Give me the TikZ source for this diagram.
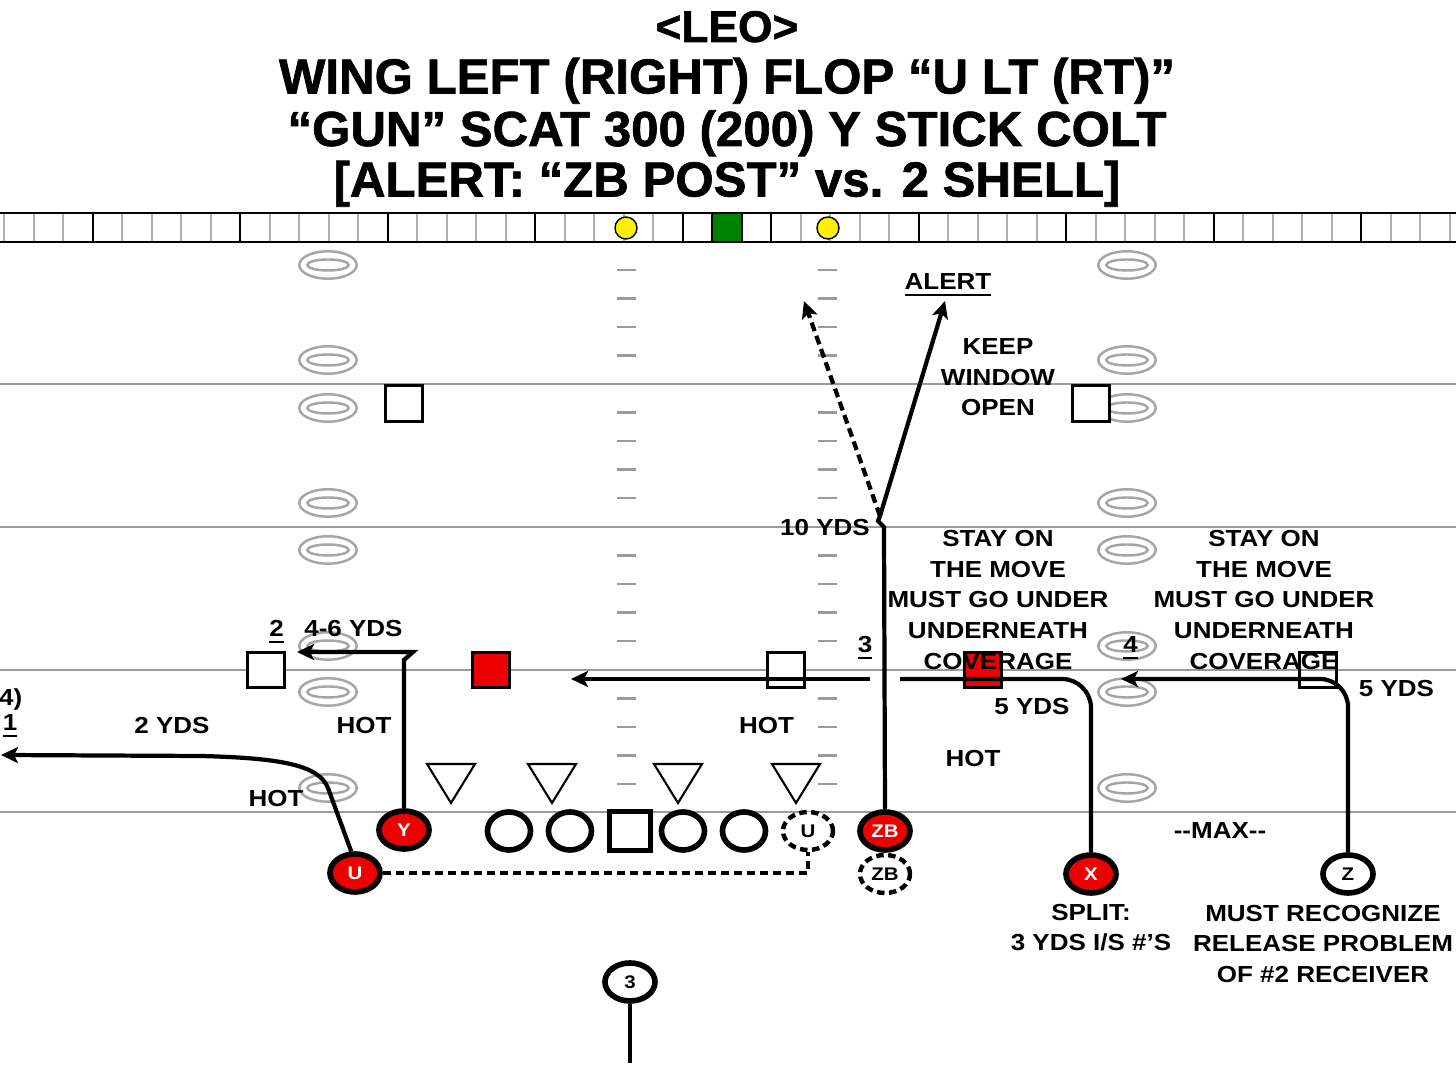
\documentclass[tikz,border=0pt]{standalone}
\usepackage{fontspec}
\setmainfont{Liberation Sans}
\newfontfamily\lblfam{Liberation Sans}[FakeStretch=1.12]
\newfontfamily\ttlfam{Liberation Sans}[BoldFeatures={FakeBold=1.3}]
\usetikzlibrary{arrows.meta,shapes.geometric}
\definecolor{pred}{RGB}{236,0,0}
\definecolor{pgreen}{RGB}{0,128,0}
\definecolor{pyellow}{RGB}{255,240,0}
\definecolor{fgrey}{RGB}{155,155,155}
\definecolor{ogrey}{RGB}{165,165,165}
\definecolor{sgrey}{RGB}{175,175,175}
\tikzset{
  lbl/.style={font=\lblfam\bfseries\fontsize{6.6}{8.7}\selectfont, inner sep=0pt, align=center},
  ttl/.style={font=\ttlfam\bfseries\fontsize{14}{16}\selectfont, inner sep=0pt, anchor=base},
  plr/.style={ellipse, draw=black, line width=1.6pt, minimum width=0.5cm, minimum height=0.38cm,
              inner sep=0pt, font=\lblfam\bfseries\fontsize{5.2}{6}\selectfont},
  plred/.style={plr, fill=pred, text=white},
  pldash/.style={plr, fill=white, line width=1.25pt, dash pattern=on 0.075cm off 0.045cm},
  olmen/.style={ellipse, draw=black, fill=white, line width=1.6pt, minimum width=0.43cm, minimum height=0.38cm, inner sep=0pt},
  cbox/.style={rectangle, draw=black, fill=white, line width=1.6pt, minimum width=0.41cm, minimum height=0.39cm, inner sep=0pt},
  dsq/.style={rectangle, draw=black, fill=white, line width=0.75pt, minimum width=0.375cm, minimum height=0.355cm, inner sep=0pt},
  tri/.style={draw=black, fill=white, line width=0.6pt, line join=miter},
  route/.style={draw=black, line width=1.2pt},
  droute/.style={route, dash pattern=on 0.09cm off 0.05cm},
  dline/.style={draw=black, line width=1pt, dash pattern=on 0.08cm off 0.05cm},
  yardln/.style={draw=fgrey, line width=0.55pt},
  hashmk/.style={draw=fgrey, line width=0.65pt},
  ovalln/.style={draw=ogrey, line width=0.7pt},
  >={Stealth[length=0.17cm,width=0.16cm,inset=0.04cm]}
}
\begin{document}
\begin{tikzpicture}[x=0.01cm,y=-0.01cm]
\useasboundingbox (0,0) rectangle (1456,1092);
\clip (0,0) rectangle (1456,1092);
\fill[white] (0,0) rectangle (1456,1092);

% ---------- title ----------
\node[ttl, font=\ttlfam\bfseries\fontsize{12.6}{14}\selectfont] (t1) at (727,42) {<LEO>};
\node[ttl] (t2) at (727,93.5) {WING LEFT (RIGHT) FLOP “U LT (RT)”};
\node[ttl] (t3) at (727,146) {“GUN” SCAT 300 (200) Y STICK COLT};
\node[ttl] (t4) at (727,196.5) {[ALERT: “ZB POST” vs. 2 SHELL]};

% ---------- sideline strip ----------
\foreach \o in {-24.5,-23.5,...,24.5}
  \draw[draw=sgrey, line width=0.45pt] ({727+\o*29.5},213) -- ({727+\o*29.5},242);
\foreach \o in {-21.5,-16.5,-11.5,-6.5,-1.5,1.5,6.5,11.5,16.5,21.5}
  \draw[black, line width=0.6pt] ({727+\o*29.5},213) -- ({727+\o*29.5},242);
\draw[black, line width=0.7pt] (-2,213) rectangle (1458,242);
\filldraw[fill=pgreen, draw=black, line width=0.5pt] (712.25,213) rectangle (741.75,242);
\filldraw[fill=pyellow, draw=black, line width=0.4pt] (626,228) circle [radius=0.11cm];
\filldraw[fill=pyellow, draw=black, line width=0.4pt] (828,228) circle [radius=0.11cm];

% ---------- field ----------
\foreach \y in {384,527,670,812} \draw[yardln] (0,\y) -- (1456,\y);
\foreach \y in {269.9,298.4,327,355.5,412.5,441,469.6,498,555.5,584,612.6,641,698.5,727,755.5,784} {
  \draw[hashmk] (617,\y) -- (636,\y);
  \draw[hashmk] (818,\y) -- (837,\y);
}
\foreach \x in {328,1127} \foreach \y in {265,360,408,503,550,646,692,788} {
  \draw[ovalln] (\x,\y) ellipse [x radius=0.287cm, y radius=0.137cm];
  \draw[ovalln] (\x,\y) ellipse [x radius=0.207cm, y radius=0.055cm];
}

% ---------- defense ----------
\node[dsq] (D1) at (404,403.5) {};
\node[dsq] (D2) at (1091,403.5) {};
\node[dsq] (D3) at (266,670) {};
\node[dsq, fill=pred] (D4) at (491,670) {};
\node[dsq] (D5) at (786,670) {};
\node[dsq, fill=pred] (D6) at (983,670) {};
\node[dsq, fill=none] (D7) at (1318,670) {};
\foreach \x in {451,552,678,796}
  \draw[tri] (\x-24,764) -- (\x+24,764) -- (\x,803) -- cycle;

% ---------- offense ----------
\node[olmen] (LT) at (509,831) {};
\node[olmen] (LG) at (570,831) {};
\node[cbox] (C) at (630,831) {};
\node[olmen] (RG) at (683,831) {};
\node[olmen] (RT) at (744,831) {};
\node[pldash] (Ud) at (808,831) {U};
\node[pldash] (ZBd) at (885,874) {ZB};
\node[plred] (Y) at (404,830) {Y};
\node[plred] (U) at (355,873) {U};
\node[plred] (ZB) at (885,831) {ZB};
\node[plred] (X) at (1091,874) {X};
\node[plr, fill=white] (Z) at (1348,874) {Z};
\node[plr, fill=white] (B3) at (630,982) {3};

% ---------- route end points ----------
\coordinate (b3end) at (630,1063);
\coordinate (uend) at (1,755);
\coordinate (ybreak) at (404,660);
\coordinate (yend) at (297,652);
\coordinate (zbtop) at (884,527);
\coordinate (zbkink) at (880,516);
\coordinate (alertend) at (945,301);
\coordinate (postend) at (804,301);
\coordinate (threestart) at (870,679);
\coordinate (threeend) at (571,679);
\coordinate (xend) at (900,679);
\coordinate (zend) at (1121,679);

% ---------- routes ----------
\draw[route] (B3.south) -- (b3end);
\draw[route,->] (U.100) -- (328,788) .. controls (319,766) and (285,758) .. (200,756) -- (uend);
\draw[route,->] (Y.north) -- (ybreak) -- (413,652) -- (yend);
\draw[route] (ZB.north) -- (zbtop) -- (878,521) -- (zbkink);
\draw[route,->] (zbkink) -- (alertend);
\draw[droute,->] (zbkink) -- (postend);
\draw[route,->] (threestart) -- (threeend);
\draw[route, rounded corners=0.29cm] (X.north) |- (xend);
\draw[route, rounded corners=0.28cm, ->] (Z.north) |- (zend);
\draw[dline] (U.east) -| (Ud.south);

% ---------- labels ----------
\node[lbl, anchor=base] (lalert) at (948,290) {\underline{ALERT}};
\node[lbl] (lkeep) at (998,377.5) {KEEP\\WINDOW\\OPEN};
\node[lbl, anchor=base] (l10) at (825,536) {10 YDS};
\node[lbl] (lstay1) at (998,600) {STAY ON\\THE MOVE\\MUST GO UNDER\\UNDERNEATH\\COVERAGE};
\node[lbl] (lstay2) at (1264,600) {STAY ON\\THE MOVE\\MUST GO UNDER\\UNDERNEATH\\COVERAGE};
\node[lbl, anchor=base] (l3) at (865,653) {\underline{3}};
\node[lbl, anchor=base] (l4) at (1130.5,653) {\underline{4}};
\node[lbl, anchor=base] (l2) at (276.5,637) {\underline{2}};
\node[lbl, anchor=base] (l46) at (353.5,637) {4-6 YDS};
\node[lbl, anchor=base east] (l4p) at (23,706) {4)};
\node[lbl, anchor=base] (l1) at (10,731) {\underline{1}};
\node[lbl, anchor=base] (l2y) at (172,734) {2 YDS};
\node[lbl, anchor=base] (lhot1) at (364,734) {HOT};
\node[lbl, anchor=base] (lhot2) at (276,807) {HOT};
\node[lbl, anchor=base] (lhot3) at (766.5,734) {HOT};
\node[lbl, anchor=base] (lhot4) at (973,767) {HOT};
\node[lbl, anchor=base] (l5a) at (1032,715) {5 YDS};
\node[lbl, anchor=base] (l5b) at (1396.5,697) {5 YDS};
\node[lbl, anchor=base] (lmax) at (1220,839) {-{}-MAX-{}-};
\node[lbl] (lsplit) at (1091,927.5) {SPLIT:\\3 YDS I/S \#’S};
\node[lbl] (lmust) at (1323,944) {MUST RECOGNIZE\\RELEASE PROBLEM\\OF \#2 RECEIVER};
\end{tikzpicture}
\end{document}
